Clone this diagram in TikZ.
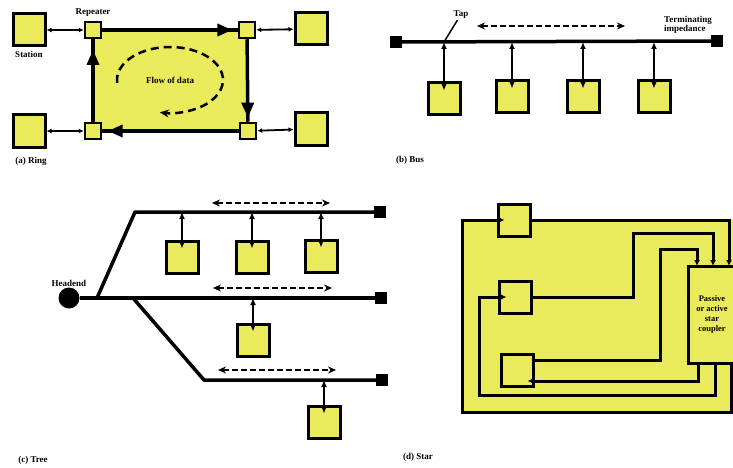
\documentclass[tikz,border=0pt]{standalone}
\usepackage{fontspec}
\setmainfont{Liberation Serif}
\usepackage{xcolor}
\usetikzlibrary{positioning,arrows.meta,decorations.markings,backgrounds}
\definecolor{netyellow}{HTML}{E9EA5C}

\begin{document}
\begin{tikzpicture}[x=1pt,y=-1pt,
                every node/.append style = {font=\fontsize{9}{10.5}\selectfont\bfseries, inner sep=1pt},
                station/.style = {draw, line width=3pt, fill=netyellow, minimum size=32pt},
                repeater/.style = {draw, line width=2.5pt, fill=netyellow, minimum size=16pt, inner sep=0pt},
                endbox/.style = {fill=black, minimum size=12pt, inner sep=0pt},
                headend/.style = {circle, fill=black, minimum size=21pt, inner sep=0pt},
                coupler/.style = {draw, line width=3pt, fill=netyellow, minimum width=61pt, minimum height=97pt},
                ringline/.style = {line width=3.5pt, postaction={decorate},
                    decoration={markings, mark=at position #1 with {\arrow{Triangle[length=15pt,width=12pt]}}}},
                link/.style = {line width=1.8pt, {Latex[length=5pt,width=5pt]}-{Latex[length=5pt,width=5pt]}},
                busline/.style = {line width=3.5pt, line join=round},
                tapline/.style = {line width=2.5pt, {Latex[length=7pt,width=6pt]}-{Latex[length=7pt,width=6pt]}},
                spanline/.style = {line width=2pt, dash pattern=on 6pt off 3pt, {Stealth[length=8pt,width=7pt]}-{Stealth[length=8pt,width=7pt]}},
                flowline/.style = {line width=2.5pt, dash pattern=on 8pt off 5pt, -{Stealth[length=9pt,width=8pt]}},
                wire/.style = {line width=3pt, line join=miter, -{Latex[length=6pt,width=6pt]}}]
            \useasboundingbox (0,0) rectangle (733,468);

            % (a) ring
            \node[repeater] (rTL) at (93,30) {};
            \node[repeater] (rTR) at (247,30) {};
            \node[repeater] (rBR) at (248,131) {};
            \node[repeater] (rBL) at (93,131) {};
            \begin{scope}[on background layer]
                \fill[netyellow] (rTL.center) rectangle (rBR.center);
            \end{scope}
            \draw[ringline=0.96] (rTL) -- (rTR);
            \draw[ringline=0.95] (rTR) -- (rBR);
            \draw[ringline=0.96] (rBR) -- (rBL);
            \draw[ringline=0.87] (rBL) -- (rTL);
            \node[station] (sTL) at (29,30) {};
            \node[station] (sTR) at (311,29) {};
            \node[station] (sBL) at (29,131) {};
            \node[station] (sBR) at (311,129) {};
            \draw[link] (sTL) -- (rTL);
            \draw[link] (sTR) -- (rTR);
            \draw[link] (sBL) -- (rBL);
            \draw[link] (sBR) -- (rBR);
            \node[above=3pt of rTL] {Repeater};
            \node[below=3pt of sTL] {Station};
            \node (flowLbl) at (170,80) {Flow of data};
            \draw[flowline] (flowLbl) ++(175:53 and 33) arc[start angle=175, end angle=461, x radius=53, y radius=33];
            \node at (31,161) {(a) Ring};

            % (b) bus
            \node[endbox] (busL) at (396,42) {};
            \node[endbox] (busR) at (717,41) {};
            \draw[busline] (busL) -- (busR);
            \node[station] (bA) at (444,99) {};
            \node[station] (bB) at (512,97) {};
            \node[station] (bC) at (583,97) {};
            \node[station] (bD) at (654,97) {};
            \draw[tapline] (bA |- busL) -- ([yshift=-9pt]bA.north);
            \draw[tapline] (bB |- busL) -- ([yshift=-9pt]bB.north);
            \draw[tapline] (bC |- busL) -- ([yshift=-9pt]bC.north);
            \draw[tapline] (bD |- busL) -- ([yshift=-9pt]bD.north);
            \node (tapLbl) at (461,15) {Tap};
            \draw[line width=1.5pt] (bA |- busL) -- ([xshift=5pt]tapLbl.south west);
            \coordinate (busSpanL) at (477,26);
            \coordinate (busSpanR) at (625,26);
            \draw[spanline] (busSpanL) -- (busSpanR);
            \node[align=left, anchor=west] (termLbl) at (663,25) {Terminating\\[-2pt]impedance};
            \node at (410,160) {(b) Bus};

            % (c) tree
            \node[headend] (head) at (69,298) {};
            \node[above=0pt of head] {Headend};
            \node[endbox] (tUp) at (380,212) {};
            \node[endbox] (tMid) at (381,298) {};
            \node[endbox] (tLow) at (382,380) {};
            \coordinate (forkUp) at (97,298);
            \coordinate (bendUp) at (135,212);
            \coordinate (forkLow) at (133,298);
            \coordinate (bendLow) at (204,380);
            \draw[busline] (head) -- (tMid);
            \draw[busline] (forkUp) -- (bendUp) -- (tUp);
            \draw[busline] (forkLow) -- (bendLow) -- (tLow);
            \node[station] (tsA) at (182,257) {};
            \node[station] (tsB) at (252,257) {};
            \node[station] (tsC) at (321,256) {};
            \node[station] (tsD) at (253,340) {};
            \node[station] (tsE) at (324,422) {};
            \draw[tapline] (tsA |- tUp) -- ([yshift=-9pt]tsA.north);
            \draw[tapline] (tsB |- tUp) -- ([yshift=-9pt]tsB.north);
            \draw[tapline] (tsC |- tUp) -- ([yshift=-9pt]tsC.north);
            \draw[tapline] (tsD |- tMid) -- ([yshift=-9pt]tsD.north);
            \draw[tapline] (tsE |- tLow) -- ([yshift=-9pt]tsE.north);
            \coordinate (spanUpL) at (212,203);
            \coordinate (spanUpR) at (330,203);
            \coordinate (spanMidL) at (213,288);
            \coordinate (spanMidR) at (332,288);
            \coordinate (spanLowL) at (218,370);
            \coordinate (spanLowR) at (336,370);
            \draw[spanline] (spanUpL) -- (spanUpR);
            \draw[spanline] (spanMidL) -- (spanMidR);
            \draw[spanline] (spanLowL) -- (spanLowR);
            \node at (33,460) {(c) Tree};

            % (d) star
            \fill[netyellow] (462,220) rectangle (745,412);
            \node[station] (stA) at (514,220) {};
            \node[station] (stB) at (515,297) {};
            \node[station] (stC) at (517,370) {};
            \node[coupler] (cpl) at (719,314.5) {};
            \node[align=center, font=\fontsize{8.5}{10}\selectfont\bfseries] (cplLbl) at (712,314) {Passive\\or active\\star\\coupler};
            \coordinate (inA) at (697,266);
            \coordinate (inB) at (713,266);
            \coordinate (inC) at (729,266);
            \coordinate (outA) at (698,363);
            \coordinate (outB) at (715,363);
            \coordinate (outC) at (731,363);
            \draw[wire] ([yshift=10pt]stC.east) -| (660,249) -| (inA);
            \draw[wire] (stB.east) -| (633,233) -| (inB);
            \draw[wire] (stA.east) -| (inC);
            \draw[wire] (outA) |- ([xshift=-7pt,yshift=-11pt]stC.east);
            \draw[wire] (outB) |- (479,395) |- ([xshift=9pt]stB.west);
            \draw[wire] (outC) |- (462,412) |- ([xshift=8pt]stA.west);
            \node at (418,457) {(d) Star};
            \end{tikzpicture}
\end{document}
